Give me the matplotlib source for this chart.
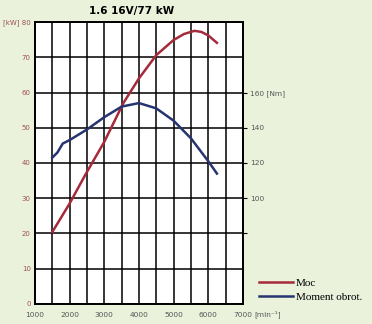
import matplotlib
matplotlib.use("Agg")
import matplotlib.pyplot as plt
import numpy as np

# engine speed [min^-1]
rpm_power = [1500, 2000, 2450, 3000, 3550, 4000, 4500, 5000, 5300, 5600, 5800, 6000, 6250]
power_kw = [20.4, 28.5, 36.6, 46.0, 57.0, 64.0, 70.6, 74.9, 76.6, 77.5, 77.2, 76.2, 74.1]

rpm_torque = [1500, 1650, 1800, 2000, 2500, 3000, 3500, 4000, 4500, 5000, 5500, 6000, 6250]
torque_nm = [123, 126, 131, 133, 139, 146, 152, 154, 151, 144, 134, 121, 114]

x_ticks = [1000, 2000, 3000, 4000, 5000, 6000, 7000]
x_labels = ["1000", "2000", "3000", "4000", "5000", "6000", "7000"]
kw_ticks = [0, 10, 20, 30, 40, 50, 60, 70, 80]
kw_labels = ["0", "10", "20", "30", "40", "50", "60", "70", "[kW] 80"]
nm_ticks = [80, 100, 120, 140, 160]
nm_labels = ["", "100", "120", "140", "160 [Nm]"]

red = "#a52a3a"
navy = "#263470"

fig = plt.figure(figsize=(3.72, 3.24), dpi=100)
fig.patch.set_facecolor("#eaf2dc")
ax = fig.add_axes([0.094, 0.062, 0.559, 0.870])
ax.set_facecolor("white")

ax.set_xlim(1000, 7000)
ax.set_ylim(0, 80)
ax.set_xticks(x_ticks)
ax.set_xticks(np.arange(1500, 7000, 1000), minor=True)
ax.grid(True, which="both", color="black", lw=1.1)
ax.set_axisbelow(True)
ax.set_xticklabels(x_labels, fontsize=5.3, color="#555555")
ax.set_yticks(kw_ticks)
ax.set_yticklabels(kw_labels, fontsize=5.0, color="#a05050")
ax.tick_params(axis="both", which="both", length=0)
ax.tick_params(axis="y", pad=3)
ax.tick_params(axis="x", pad=6)
for s in ax.spines.values():
    s.set_linewidth(1.3)
    s.set_color("black")

l1, = ax.plot(rpm_power, power_kw, color=red, lw=1.8, label="Moc")

ax2 = ax.twinx()
ax2.set_ylim(40, 200)
ax2.set_yticks(nm_ticks)
ax2.set_yticklabels(nm_labels, fontsize=5.3, color="#555555")
ax2.tick_params(axis="y", length=3, width=0.8, pad=2, direction="out")
for s in ax2.spines.values():
    s.set_linewidth(1.3)
l2, = ax2.plot(rpm_torque, torque_nm, color=navy, lw=1.8, label="Moment obrot.")

# unit next to the last rpm label
ax.annotate("[min\u207b\u00b9]", xy=(7000, 0), xytext=(8, -7.5), textcoords="offset points",
            ha="left", va="center", fontsize=5.3, color="#555555", annotation_clip=False)

fig.text(0.355, 0.965, "1.6 16V/77 kW", ha="center", va="center",
         fontsize=7.5, fontweight="bold", family="DejaVu Sans")

fig.legend(handles=[l1, l2], loc="center left", bbox_to_anchor=(0.67, 0.105),
           frameon=False, prop={"family": "Liberation Serif", "size": 8.0},
           handlelength=3.0, handletextpad=0.3, labelspacing=0.4)

fig.savefig("out.png", dpi=100, facecolor=fig.get_facecolor())
